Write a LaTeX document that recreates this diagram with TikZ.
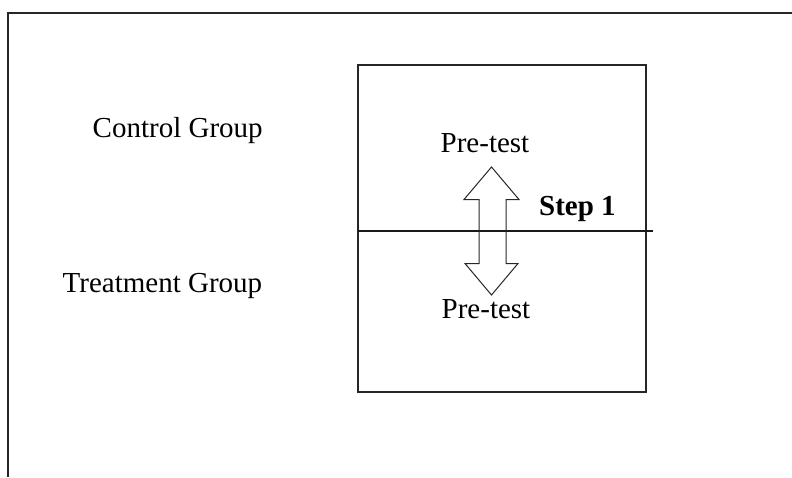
\documentclass[tikz,border=0pt]{standalone}
\usepackage{fontspec}
\setmainfont{Liberation Serif}
\begin{document}
\begin{tikzpicture}[x=1pt,y=-1pt,
  lbl/.style={anchor=base west,inner sep=0pt,font=\fontsize{29}{32}\selectfont},
  frame/.style={line width=1.6pt,draw=black!85},
  thin/.style={line width=1.1pt,draw=black!90}]
\useasboundingbox (0,0) rectangle (792,477);
% outer open frame
\draw[frame] (8,477) -- (8,13) -- (792,13);
% inner box
\draw[frame] (358,65) rectangle (646,392);
% dividing line
\coordinate (l1) at (358,231);
\coordinate (l2) at (653,231);
\draw[thin] (l1) -- (l2);
% double arrow outline
\draw[line width=1pt,draw=black!85,line join=miter]
  (491.5,167) -- (519,199.5) -- (506,199.5) -- (506,263.5) -- (518,263.5)
  -- (491.5,295) -- (465,263.5) -- (479,263.5) -- (479,199.5) -- (464,199.5) -- cycle;
% labels
\node[lbl] (cg) at (92.5,137) {Control Group};
\node[lbl] (tg) at (62.5,292) {Treatment Group};
\node[lbl] (pt1) at (440.5,152) {Pre-test};
\node[lbl] (pt2) at (441.5,318) {Pre-test};
\node[lbl,font=\fontsize{29}{32}\selectfont\bfseries] (s1) at (539,215) {Step 1};
\end{tikzpicture}
\end{document}
